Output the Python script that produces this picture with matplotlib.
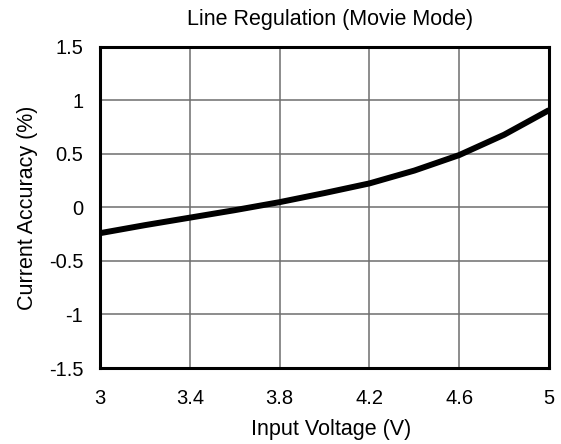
import matplotlib
matplotlib.use("Agg")
import matplotlib.pyplot as plt

voltage = [3.0, 3.2, 3.4, 3.6, 3.8, 4.0, 4.2, 4.4, 4.6, 4.8, 5.0]
accuracy = [-0.24, -0.165, -0.095, -0.025, 0.05, 0.135, 0.225, 0.345, 0.49, 0.68, 0.91]
xticks = [3, 3.4, 3.8, 4.2, 4.6, 5]
xtick_labels = ["3", "3.4", "3.8", "4.2", "4.6", "5"]
yticks = [-1.5, -1, -0.5, 0, 0.5, 1, 1.5]
ytick_labels = ["-1.5", "-1", "-0.5", "0", "0.5", "1", "1.5"]

plt.rcParams['font.family'] = ['Liberation Sans', 'DejaVu Sans']
fs = 14.5
fl = 15.5
fig = plt.figure(figsize=(5.61, 4.44), dpi=100)
ax = fig.add_axes([100/561, 1-368/444, 449/561, 321/444])
ax.plot(voltage, accuracy, color='black', linewidth=4.3, solid_capstyle='butt')
ax.set_xlim(3, 5)
ax.set_ylim(-1.5, 1.5)
ax.set_xticks(xticks)
ax.set_xticklabels(xtick_labels)
ax.set_yticks(yticks)
ax.set_yticklabels(ytick_labels)
ax.grid(True, color='#6e6e6e', linewidth=1.1)
ax.tick_params(length=0, labelsize=fs)
ax.tick_params(axis='x', pad=15)
ax.tick_params(axis='y', pad=12)
for s in ax.spines.values():
    s.set_linewidth(2.2)
    s.set_color('black')
ax.set_title("Line Regulation (Movie Mode)", fontsize=fl, pad=16, x=0.512)
ax.set_xlabel("Input Voltage (V)", fontsize=fl, labelpad=8)
ax.xaxis.label.set_x(0.514)
ax.set_ylabel("Current Accuracy (%)", fontsize=fl, labelpad=8)
fig.savefig("out.png", dpi=100)
